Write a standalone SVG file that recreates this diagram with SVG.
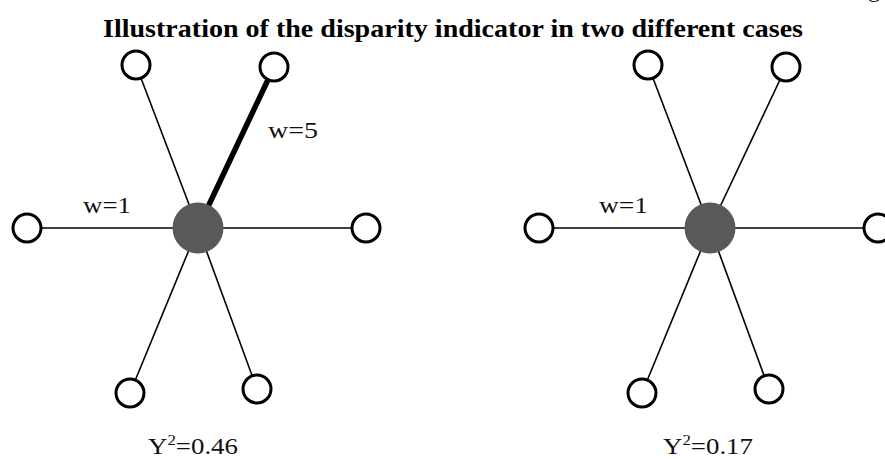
<svg xmlns="http://www.w3.org/2000/svg" width="885" height="459" viewBox="0 0 885 459">
<style>
.leaf{fill:#fff;stroke:#000;stroke-width:3}
.hub{fill:#595959}
.e{stroke:#000;stroke-width:1.6}
.thick{stroke:#000;stroke-width:5.5}
.lbl{font-family:"Liberation Serif",serif;font-size:24px;fill:#111}
.title{font-family:"Liberation Serif",serif;font-size:26px;font-weight:bold;fill:#000}
</style>
<rect width="885" height="459" fill="#fff"/>
<text x="868" y="-3" class="lbl" font-size="16">g</text>
<text x="453" y="37" text-anchor="middle" class="title" textLength="700" lengthAdjust="spacingAndGlyphs">Illustration of the disparity indicator in two different cases</text>
<g id="connectors">
<line class="e" x1="198" y1="228" x2="136" y2="65"/>
<line class="thick" x1="198" y1="228" x2="274" y2="67"/>
<line class="e" x1="198" y1="228" x2="27" y2="228"/>
<line class="e" x1="198" y1="228" x2="366" y2="228"/>
<line class="e" x1="198" y1="228" x2="130" y2="393"/>
<line class="e" x1="198" y1="228" x2="257" y2="389"/>
<line class="e" x1="710" y1="228" x2="648" y2="65"/>
<line class="e" x1="710" y1="228" x2="786" y2="67"/>
<line class="e" x1="710" y1="228" x2="539" y2="228"/>
<line class="e" x1="710" y1="228" x2="878" y2="228"/>
<line class="e" x1="710" y1="228" x2="642" y2="393"/>
<line class="e" x1="710" y1="228" x2="769" y2="389"/>
</g>
<g id="A-hub"><circle class="hub" cx="198" cy="228" r="25.5"/></g>
<g id="A-tl"><circle class="leaf" cx="136" cy="65" r="14"/></g>
<g id="A-tr"><circle class="leaf" cx="274" cy="67" r="14"/></g>
<g id="A-l"><circle class="leaf" cx="27" cy="228" r="14"/></g>
<g id="A-r"><circle class="leaf" cx="366" cy="228" r="14"/></g>
<g id="A-bl"><circle class="leaf" cx="130" cy="393" r="14"/></g>
<g id="A-br"><circle class="leaf" cx="257" cy="389" r="14"/></g>
<g id="B-hub"><circle class="hub" cx="710" cy="228" r="25.5"/></g>
<g id="B-tl"><circle class="leaf" cx="648" cy="65" r="14"/></g>
<g id="B-tr"><circle class="leaf" cx="786" cy="67" r="14"/></g>
<g id="B-l"><circle class="leaf" cx="539" cy="228" r="14"/></g>
<g id="B-r"><circle class="leaf" cx="878" cy="228" r="14"/></g>
<g id="B-bl"><circle class="leaf" cx="642" cy="393" r="14"/></g>
<g id="B-br"><circle class="leaf" cx="769" cy="389" r="14"/></g>
<g id="labels">
<text class="lbl" x="268" y="138" textLength="50" lengthAdjust="spacingAndGlyphs">w=5</text>
<text class="lbl" x="83" y="213" textLength="48" lengthAdjust="spacingAndGlyphs">w=1</text>
<text class="lbl" x="599" y="213" textLength="49" lengthAdjust="spacingAndGlyphs">w=1</text>
<text class="lbl" x="148" y="454" textLength="90" lengthAdjust="spacingAndGlyphs">Y<tspan font-size="15" dy="-9">2</tspan><tspan dy="9">=0.46</tspan></text>
<text class="lbl" x="663" y="454" textLength="90" lengthAdjust="spacingAndGlyphs">Y<tspan font-size="15" dy="-9">2</tspan><tspan dy="9">=0.17</tspan></text>
</g>
</svg>
